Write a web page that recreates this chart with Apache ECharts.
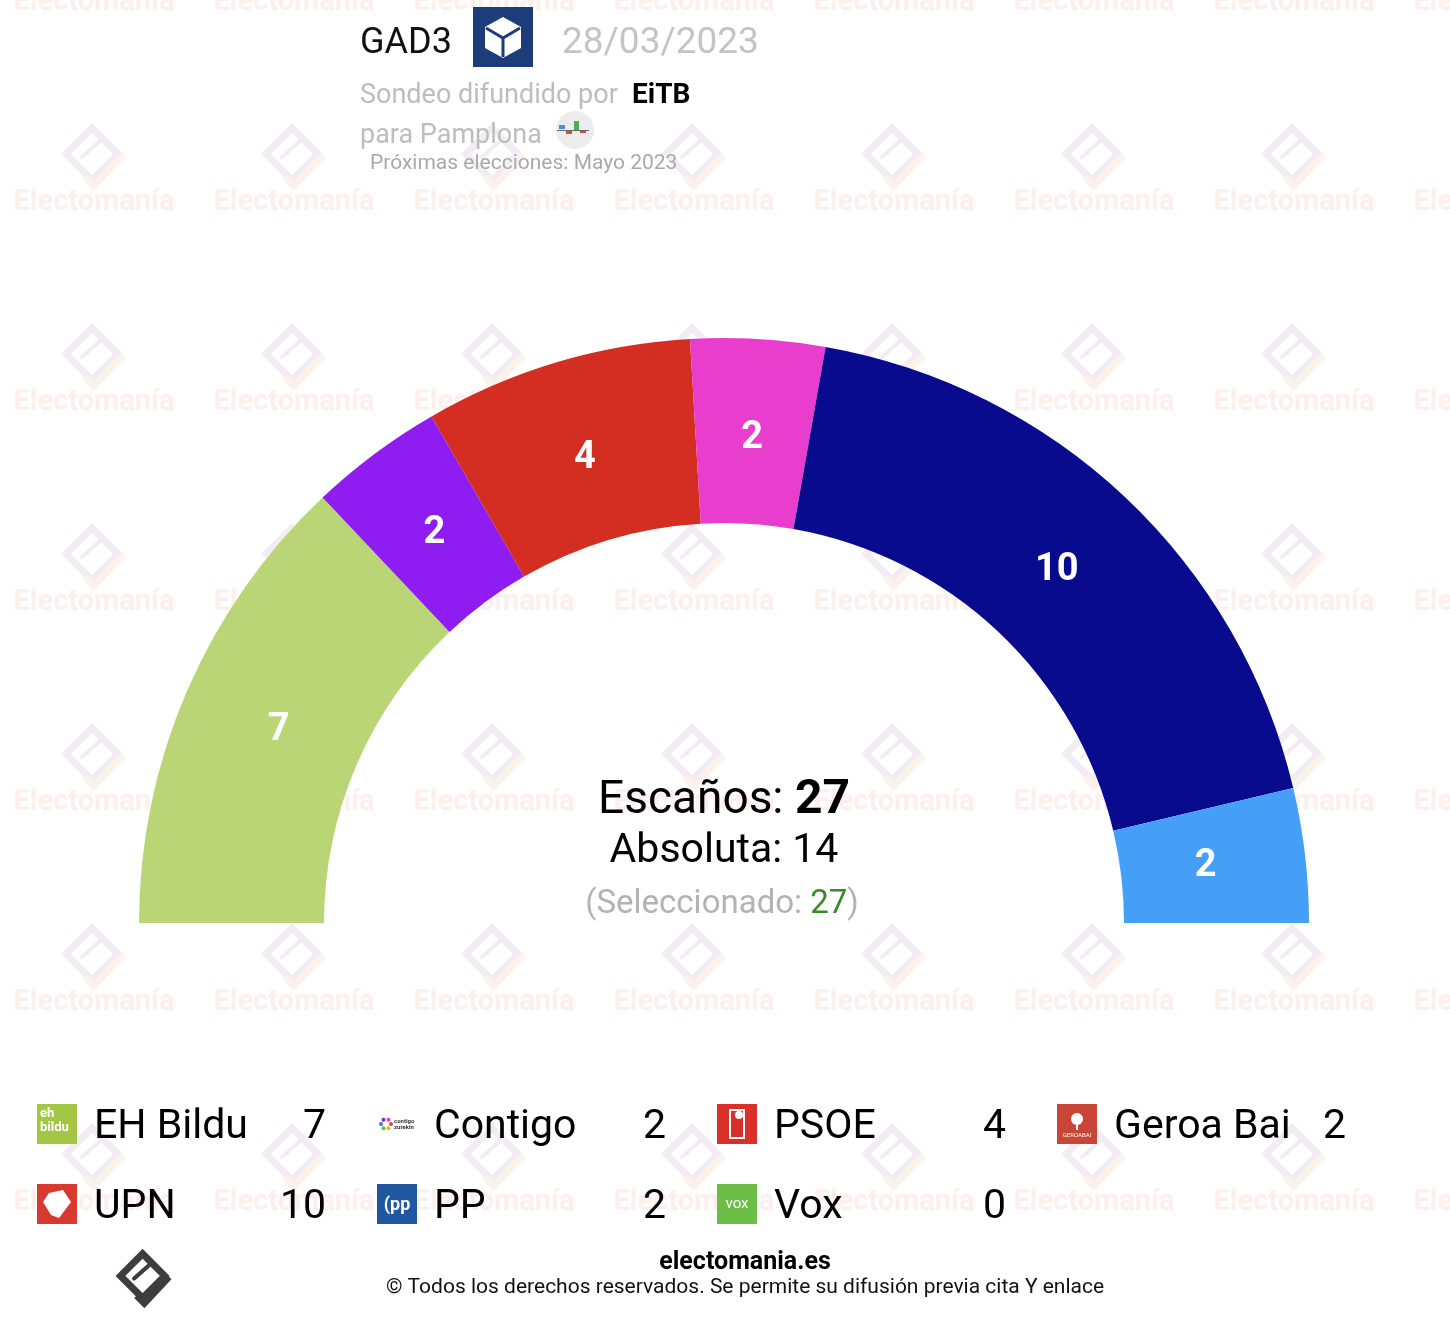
<!DOCTYPE html>
<html>
<head>
<meta charset="utf-8">
<title>GAD3 - Pamplona</title>
<script src="https://cdn.jsdelivr.net/npm/echarts@6/dist/echarts.min.js"></script>
<style>
  html, body { margin: 0; padding: 0; background: #fff; }
  #chart { width: 1450px; height: 1318px; }
</style>
</head>
<body>
<div id="chart"></div>
<script>
// seats per party (Vox gets 0, so it only shows in the legend)
var parties = ['EH Bildu', 'Contigo', 'PSOE', 'Geroa Bai', 'UPN', 'PP', 'Vox'];
var seats = [7, 2, 4, 2, 10, 2, 0];
var arcColors = ['#bad576', '#8f1cf1', '#d32e21', '#e93dce', '#080b8d', '#469ff7', '#6cbd45'];
var iconColors = ['#a3c644', '#ffffff', '#d9302a', '#c94536', '#d83a32', '#1f58a0', '#6cbd45'];
var totalSeats = 27;
var majority = 14;
var selected = 27;

var FONT = 'Roboto, "Noto Sans", sans-serif';
var chart = echarts.init(document.getElementById('chart'), null, { renderer: 'canvas' });

var pieData = [];
for (var i = 0; i < parties.length; i++) {
    if (seats[i] > 0) {
        pieData.push({ name: parties[i], value: seats[i], itemStyle: { color: arcColors[i] } });
    }
}

// electomania logo (diamond + slot + hook), cx/cy = centre, s = scale
function logo(cx, cy, s, c1, c2, lw) {
    function p(x, y) { return [cx + x * s, cy + y * s]; }
    return [
        { type: 'polygon', silent: true, z: -1,
          shape: { points: [p(-4, -32), p(22, -6), p(-4, 20), p(-30, -6)] },
          style: { fill: null, stroke: c1, lineWidth: lw, lineJoin: 'miter' } },
        { type: 'polyline', silent: true, z: -1,
          shape: { points: [p(-14, -3), p(3, -18)] },
          style: { stroke: c1, lineWidth: lw * 0.6, lineCap: 'round' } },
        { type: 'polyline', silent: true, z: -1,
          shape: { points: [p(27, -5), p(-2, 26), p(-11, 17)] },
          style: { fill: null, stroke: c2, lineWidth: lw, lineJoin: 'miter' } }
    ];
}

var graphics = [];

// watermark grid
for (var gx = 0; gx < 8; gx++) {
    for (var gy = 0; gy < 7; gy++) {
        var wx = 94 + gx * 200, wy = 3 + gy * 200;
        graphics.push({
            type: 'text', silent: true, z: -1, x: wx, y: wy,
            style: { text: 'Electomanía', font: 'bold 29px ' + FONT, fill: '#fcefec',
                     align: 'center', verticalAlign: 'middle' }
        });
        graphics = graphics.concat(logo(wx + 2, wy - 43, 1, '#f3ecf4', '#fcf2ec', 7));
    }
}

// header
graphics.push(
    { type: 'text', x: 360, y: 44, style: { text: 'GAD3', font: '36px ' + FONT, fill: '#111', verticalAlign: 'middle' } },
    { type: 'rect', shape: { x: 473, y: 7, width: 60, height: 60 }, style: { fill: '#1c3d7a' } },
    { type: 'polygon', shape: { points: [[503, 17], [521, 27], [521, 48], [503, 58], [485, 48], [485, 27]] }, style: { fill: '#fff' } },
    { type: 'polyline', shape: { points: [[486, 28], [503, 38], [520, 28]] }, style: { stroke: '#1c3d7a', lineWidth: 3, fill: null } },
    { type: 'polyline', shape: { points: [[503, 38], [503, 57]] }, style: { stroke: '#1c3d7a', lineWidth: 3 } },
    { type: 'text', x: 562, y: 44, style: { text: '28/03/2023', font: '37px ' + FONT, fill: '#c4c4c4', verticalAlign: 'middle' } },
    { type: 'text', x: 360, y: 96, style: { text: 'Sondeo difundido por', font: '27px ' + FONT, fill: '#bdbdbd', verticalAlign: 'middle' } },
    { type: 'text', x: 632, y: 96, style: { text: 'EiTB', font: 'bold 28px ' + FONT, fill: '#000', verticalAlign: 'middle' } },
    { type: 'text', x: 360, y: 136, style: { text: 'para Pamplona', font: '27px ' + FONT, fill: '#bdbdbd', verticalAlign: 'middle' } },
    { type: 'circle', shape: { cx: 575, cy: 130, r: 19 }, style: { fill: '#ececec' } },
    { type: 'rect', shape: { x: 559, y: 125, width: 6, height: 4 }, style: { fill: '#4a90d9' } },
    { type: 'rect', shape: { x: 566, y: 130, width: 6, height: 4 }, style: { fill: '#d9483a' } },
    { type: 'rect', shape: { x: 574, y: 121, width: 5, height: 9 }, style: { fill: '#4caf50' } },
    { type: 'rect', shape: { x: 580, y: 130, width: 6, height: 3 }, style: { fill: '#d9483a' } },
    { type: 'rect', shape: { x: 557, y: 130, width: 32, height: 1 }, style: { fill: '#666' } },
    { type: 'text', x: 370, y: 164, style: { text: 'Próximas elecciones: Mayo 2023', font: '21px ' + FONT, fill: '#a9a9a9', verticalAlign: 'middle' } }
);

// centre text
graphics.push(
    { type: 'text', x: 724, y: 801, style: {
        text: '{a|Escaños: }{b|' + totalSeats + '}', align: 'center', verticalAlign: 'middle',
        rich: { a: { font: '46px ' + FONT, fill: '#000' }, b: { font: 'bold 48px ' + FONT, fill: '#000' } } } },
    { type: 'text', x: 724, y: 852, style: { text: 'Absoluta: ' + majority, font: '41px ' + FONT, fill: '#000', align: 'center', verticalAlign: 'middle' } },
    { type: 'text', x: 722, y: 905, style: {
        text: '{g|(Seleccionado: }{v|' + selected + '}{g|)}', align: 'center', verticalAlign: 'middle',
        rich: { g: { font: '33px ' + FONT, fill: '#b3b3b3' }, v: { font: '33px ' + FONT, fill: '#3a8a2a' } } } }
);

// legend icons
function icon(i, x, y) {
    var out = [{ type: 'rect', shape: { x: x, y: y, width: 40, height: 40 }, style: { fill: iconColors[i] } }];
    var cx = x + 20, cy = y + 20;
    if (parties[i] === 'EH Bildu') {
        out.push({ type: 'text', x: x + 3, y: y + 3, style: { text: 'eh\nbildu', font: 'bold 13px ' + FONT, fill: '#fff', lineHeight: 14 } });
    } else if (parties[i] === 'Contigo') {
        var ring = ['#e8403a', '#f3b21d', '#6cbd45', '#3a7bd5', '#8f1cf1', '#e93dce'];
        for (var k = 0; k < ring.length; k++) {
            var a = k / ring.length * Math.PI * 2;
            out.push({ type: 'circle', shape: { cx: x + 9 + Math.cos(a) * 5, cy: cy + Math.sin(a) * 5, r: 2 }, style: { fill: ring[k] } });
        }
        out.push({ type: 'text', x: x + 17, y: cy, style: { text: 'contigo\nzurekin', font: 'bold 6px ' + FONT, fill: '#333', verticalAlign: 'middle', lineHeight: 6 } });
    } else if (parties[i] === 'PSOE') {
        out.push({ type: 'rect', shape: { x: cx - 7, y: y + 6, width: 14, height: 28 }, style: { fill: null, stroke: '#fff', lineWidth: 2 } });
        out.push({ type: 'circle', shape: { cx: cx + 2, cy: y + 11, r: 4 }, style: { fill: '#fff' } });
    } else if (parties[i] === 'Geroa Bai') {
        out.push({ type: 'circle', shape: { cx: cx, cy: y + 15, r: 6 }, style: { fill: '#fff' } });
        out.push({ type: 'rect', shape: { x: cx - 1, y: y + 18, width: 2, height: 8 }, style: { fill: '#fff' } });
        out.push({ type: 'text', x: cx, y: y + 31, style: { text: 'GEROABAI', font: '6px ' + FONT, fill: '#fff', align: 'center', verticalAlign: 'middle' } });
    } else if (parties[i] === 'UPN') {
        out.push({ type: 'polygon', shape: { points: [[x + 12, y + 9], [x + 26, y + 6], [x + 34, y + 18], [x + 22, y + 34], [x + 14, y + 31], [x + 6, y + 18]] }, style: { fill: '#fff' } });
    } else if (parties[i] === 'PP') {
        out.push({ type: 'text', x: cx, y: cy + 1, style: { text: '(pp', font: 'bold 18px ' + FONT, fill: '#fff', align: 'center', verticalAlign: 'middle' } });
    } else if (parties[i] === 'Vox') {
        out.push({ type: 'text', x: cx, y: cy, style: { text: 'vox', font: '15px ' + FONT, fill: '#fff', align: 'center', verticalAlign: 'middle' } });
    }
    return out;
}

for (var j = 0; j < parties.length; j++) {
    var col = j % 4, row = Math.floor(j / 4);
    var lx = 37 + col * 340, ly = 1124 + row * 80;
    graphics = graphics.concat(icon(j, lx, ly - 20));
    graphics.push(
        { type: 'text', x: lx + 57, y: ly + 4, style: { text: parties[j], font: '41px ' + FONT, fill: '#000', verticalAlign: 'middle' } },
        { type: 'text', x: lx + 289, y: ly + 4, style: { text: String(seats[j]), font: '41px ' + FONT, fill: '#000', align: 'right', verticalAlign: 'middle' } }
    );
}

// footer
graphics = graphics.concat(logo(146, 1281, 0.85, '#3d3d3d', '#3d3d3d', 7));
graphics.push(
    { type: 'text', x: 745, y: 1263, style: { text: 'electomania.es', font: 'bold 25px ' + FONT, fill: '#000', align: 'center', verticalAlign: 'middle' } },
    { type: 'text', x: 745, y: 1288, style: { text: '© Todos los derechos reservados. Se permite su difusión previa cita Y enlace', font: '21px ' + FONT, fill: '#111', align: 'center', verticalAlign: 'middle' } }
);

var option = {
    backgroundColor: '#fff',
    animation: false,
    graphic: { elements: graphics },
    series: [
        {
            type: 'pie',
            center: [724, 923],
            radius: [400, 585],
            startAngle: 180,
            endAngle: 0,
            clockwise: true,
            silent: true,
            z: 2,
            label: { show: false },
            labelLine: { show: false },
            emphasis: { disabled: true },
            data: pieData
        },
        {
            // transparent copy, only to place the seat numbers a bit inward
            type: 'pie',
            center: [724, 923],
            radius: [400, 564],
            startAngle: 180,
            endAngle: 0,
            clockwise: true,
            silent: true,
            z: 3,
            avoidLabelOverlap: false,
            itemStyle: { color: 'rgba(0,0,0,0)' },
            label: {
                show: true,
                position: 'inside',
                formatter: '{c}',
                color: '#fff',
                fontFamily: FONT,
                fontWeight: 'bold',
                fontSize: 38
            },
            labelLine: { show: false },
            emphasis: { disabled: true },
            data: pieData.map(function (d) { return { name: d.name, value: d.value }; })
        }
    ]
};

chart.setOption(option);
</script>
</body>
</html>
